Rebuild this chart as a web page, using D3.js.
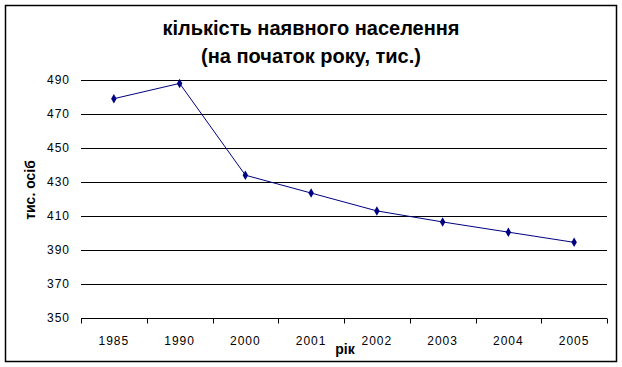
<!DOCTYPE html>
<html lang="uk">
<head>
    <meta charset="UTF-8"/>
    <title>кількість наявного населення</title>
    <script src="https://d3js.org/d3.v7.min.js"></script>
    <style>
        body { margin: 0; background: #fff; }
        text { font-family: "Liberation Sans", Arial, sans-serif; fill: #000; }
    </style>
</head>
<body>
    <script>
        var w = 622;
        var h = 367;

        var years = ["1985","1990","2000","2001","2002","2003","2004","2005"];
        var population = [479, 488, 434, 423.5, 413, 406.5, 400.5, 394.5];
        var yTicks = [350, 370, 390, 410, 430, 450, 470, 490];

        // plot area
        var pLeft = 81, pRight = 607, pTop = 80, pBottom = 318;

        var xScale = d3.scaleBand()
                      .domain(years)
                      .range([pLeft, pRight]);

        var yScale = d3.scaleLinear()
                      .domain([350, 490])
                      .range([pBottom, pTop]);

        var svg = d3.select("body")
                    .append("svg")
                    .attr("width", w)
                    .attr("height", h);

        // outer frame
        svg.append("rect")
            .attr("x", 5.5).attr("y", 5.5)
            .attr("width", 611).attr("height", 356)
            .attr("fill", "#fff")
            .attr("stroke", "#000")
            .attr("stroke-width", 1.5);

        // title
        var title = svg.append("text")
            .attr("text-anchor", "middle")
            .style("font-size", "20px")
            .style("font-weight", "bold");
        title.append("tspan").attr("x", 311).attr("y", 35).text("кількість наявного населення");
        title.append("tspan").attr("x", 311).attr("y", 63).text("(на початок року, тис.)");

        // gridlines
        svg.selectAll("line.grid")
            .data(yTicks.slice(1))
            .enter()
            .append("line")
            .attr("class", "grid")
            .attr("x1", pLeft).attr("x2", pRight)
            .attr("y1", function(d){ return Math.round(yScale(d)) + 0.5; })
            .attr("y2", function(d){ return Math.round(yScale(d)) + 0.5; })
            .attr("stroke", "#000");

        // y labels
        svg.selectAll("text.ylab")
            .data(yTicks)
            .enter()
            .append("text")
            .attr("class", "ylab")
            .attr("x", 70)
            .attr("y", function(d){ return yScale(d) + 4; })
            .attr("text-anchor", "end")
            .style("font-size", "12px")
            .style("letter-spacing", "1px")
            .text(function(d){ return d; });

        // x axis
        var xAxis = d3.axisBottom(xScale).tickSize(0).tickFormat("");
        var gx = svg.append("g")
            .attr("transform", "translate(0," + (Math.round(pBottom) + 0.5) + ")")
            .call(xAxis);
        gx.select(".domain").attr("stroke", "#000").attr("d", "M" + pLeft + ",0H" + pRight);

        var bounds = xScale.domain().map(function(d){ return xScale(d); }).concat([pRight]);
        gx.selectAll("line.tk")
            .data(bounds)
            .enter()
            .append("line")
            .attr("class", "tk")
            .attr("x1", function(d){ return Math.round(d) + 0.5; })
            .attr("x2", function(d){ return Math.round(d) + 0.5; })
            .attr("y1", 0).attr("y2", 5)
            .attr("stroke", "#000");

        svg.selectAll("text.xlab")
            .data(years)
            .enter()
            .append("text")
            .attr("class", "xlab")
            .attr("x", function(d){ return xScale(d) + xScale.bandwidth() / 2; })
            .attr("y", 345)
            .attr("text-anchor", "middle")
            .style("font-size", "12px")
            .style("letter-spacing", "1px")
            .text(function(d){ return d; });

        // axis titles
        svg.append("text")
            .attr("x", 345).attr("y", 354)
            .attr("text-anchor", "middle")
            .style("font-size", "14px")
            .style("font-weight", "bold")
            .text("рік");

        svg.append("text")
            .attr("transform", "translate(35,190) rotate(-90)")
            .attr("text-anchor", "middle")
            .style("font-size", "14px")
            .style("font-weight", "bold")
            .text("тис. осіб");

        // line
        var line = d3.line()
            .x(function(d, i){ return xScale(years[i]) + xScale.bandwidth() / 2; })
            .y(function(d){ return yScale(d); });

        svg.append("path")
            .datum(population)
            .attr("d", line)
            .attr("fill", "none")
            .attr("stroke", "#000080")
            .attr("stroke-width", 1);

        svg.selectAll("path.mark")
            .data(population)
            .enter()
            .append("path")
            .attr("class", "mark")
            .attr("d", d3.symbol().type(d3.symbolDiamond).size(26))
            .attr("transform", function(d, i){
                return "translate(" + (xScale(years[i]) + xScale.bandwidth() / 2) + "," + yScale(d) + ")";
            })
            .attr("fill", "#000080");
    </script>
</body>
</html>
